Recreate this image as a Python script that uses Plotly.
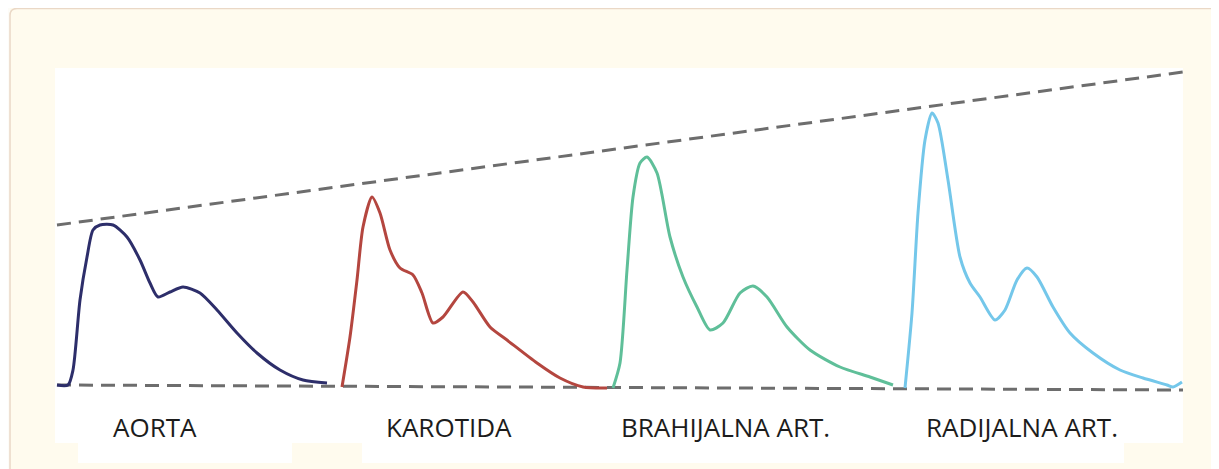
import plotly.graph_objects as go

# ---- data (time units, pressure units) ----
categories = ["AORTA", "KAROTIDA", "BRAHIJALNA ART.", "RADIJALNA ART."]

aorta_t = [2, 13, 18, 25, 32, 38, 45, 58, 72, 85, 95, 103, 115, 128, 145, 162, 182, 202, 225, 248, 272]
aorta_p = [58, 58, 73, 143, 186, 213, 218, 218, 206, 183, 160, 146, 151, 156, 150, 133, 110, 90, 73, 63, 60]

karotida_t = [287, 295, 302, 308, 317, 325, 335, 345, 358, 367, 378, 388, 408, 418, 435, 452, 482, 505, 528, 552]
karotida_p = [56, 106, 163, 216, 246, 230, 193, 175, 168, 150, 120, 126, 151, 141, 116, 103, 80, 65, 56, 55]

brahijalna_t = [558, 565, 572, 578, 585, 592, 602, 615, 628, 642, 655, 668, 685, 698, 712, 732, 755, 785, 815, 838]
brahijalna_p = [55, 80, 173, 246, 280, 286, 270, 206, 166, 136, 113, 120, 150, 157, 146, 116, 93, 76, 66, 58]

radijalna_t = [850, 857, 863, 870, 877, 883, 893, 905, 915, 925, 940, 950, 962, 972, 982, 998, 1015, 1038, 1065, 1088, 1112, 1118, 1127]
radijalna_p = [55, 130, 230, 303, 330, 320, 263, 186, 160, 146, 123, 133, 163, 175, 166, 136, 110, 90, 73, 65, 58, 56, 61]

envelope_t = [2, 1128]
envelope_top = [218, 371]
envelope_base = [58, 53]

colors = ["#2d2e6a", "#b4463f", "#5fbf99", "#74c7ea"]
series = [(aorta_t, aorta_p), (karotida_t, karotida_p), (brahijalna_t, brahijalna_p), (radijalna_t, radijalna_p)]

# ---- layout geometry (screen pixels; page body has an 8px margin) ----
OFF = 8
SW, SH = 1219, 469
W, H = SW - OFF, SH - OFF
L, T = 55 - OFF, 68 - OFF
PW, PH = 1128, 375
R, B = W - L - PW, H - T - PH

def fx(px):  # screen px -> paper x
    return (px - OFF - L) / PW

def fy(py):  # screen py -> paper y
    return (H - B - (py - OFF)) / PH

fig = go.Figure()

for t, p in [(envelope_t, envelope_top), (envelope_t, envelope_base)]:
    fig.add_trace(go.Scatter(x=t, y=p, mode="lines",
                             line=dict(color="#6d6d6d", width=3, dash="14px,8px"),
                             hoverinfo="skip", showlegend=False))

for (t, p), c, name in zip(series, colors, categories):
    fig.add_trace(go.Scatter(x=t, y=p, mode="lines", name=name,
                             line=dict(color=c, width=3, shape="spline", smoothing=0.7),
                             showlegend=False))

label_x = [100, 394, 670, 967]
annotations = [dict(x=lx, y=fy(427), xref="x", yref="paper", text=name, showarrow=False,
                    font=dict(family="Open Sans", size=26, color="#1c1c1c"),
                    xanchor="center", yanchor="middle")
               for lx, name in zip(label_x, categories)]

r = 7
border_path = (f"M {fx(10)},{fy(SH + 20)} L {fx(10)},{fy(8.5 + r)} "
               f"Q {fx(10)},{fy(8.5)} {fx(10 + r)},{fy(8.5)} L {fx(SW + 20)},{fy(8.5)}")

shapes = [
    # whitish strip outside the rounded border
    dict(type="rect", xref="paper", yref="paper", x0=fx(0), x1=fx(10), y0=fy(SH + 5), y1=fy(0),
         fillcolor="#fdfcf8", line=dict(width=0), layer="below"),
    dict(type="path", xref="paper", yref="paper", path=border_path,
         line=dict(color="#ead8c6", width=1.5), layer="below"),
    # white patches under the labels
    dict(type="rect", xref="paper", yref="paper", x0=fx(78), x1=fx(292), y0=fy(463), y1=fy(442),
         fillcolor="white", line=dict(width=0), layer="below"),
    dict(type="rect", xref="paper", yref="paper", x0=fx(362), x1=fx(1124), y0=fy(463), y1=fy(442),
         fillcolor="white", line=dict(width=0), layer="below"),
]

fig.update_layout(
    width=W, height=H,
    margin=dict(l=L, r=R, t=T, b=B, pad=0),
    paper_bgcolor="#fffbee",
    plot_bgcolor="white",
    xaxis=dict(range=[0, PW], visible=False, fixedrange=True),
    yaxis=dict(range=[0, PH], visible=False, fixedrange=True),
    annotations=annotations,
    shapes=shapes,
)

fig.write_html("out.html")
